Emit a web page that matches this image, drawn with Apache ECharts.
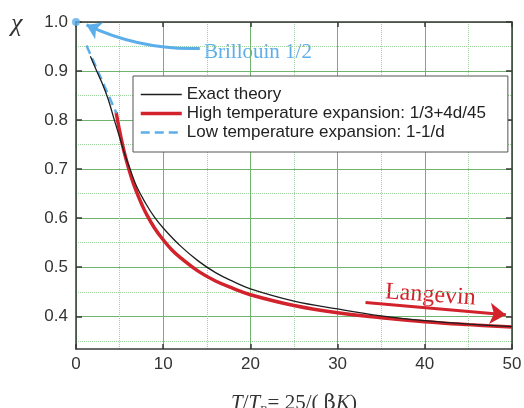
<!DOCTYPE html>
<html><head><meta charset="utf-8">
<script src="https://cdn.jsdelivr.net/npm/echarts@6/dist/echarts.min.js"></script>
<style>html,body{margin:0;padding:0;background:#fff}#c{width:524px;height:408px}</style>
</head><body><div id="c"></div>
<script>
// ---- data ----
const yTickValues = [0.4, 0.5, 0.6, 0.7, 0.8, 0.9, 1.0];
const yMinorValues = [0.35, 0.45, 0.55, 0.65, 0.75, 0.85, 0.95];
const exactX = [1.65, 2.5, 3.0, 3.7, 4.4, 5.0, 5.6, 6.2, 7, 8, 9, 10, 12, 14, 16, 18, 20, 25, 30, 35, 40, 45, 50];
const exactY = [0.930, 0.895, 0.875, 0.842, 0.800, 0.765, 0.730, 0.700, 0.663, 0.630, 0.602, 0.580, 0.543, 0.513, 0.489, 0.471, 0.456, 0.431, 0.415, 0.401, 0.391, 0.384, 0.379];
const highX = [4.6, 5, 5.5, 6, 6.5, 7, 7.5, 8, 9, 10, 11, 12, 14, 16, 18, 20, 25, 30, 35, 40, 45, 50];
const highY = [0.816, 0.778, 0.737, 0.704, 0.675, 0.651, 0.630, 0.611, 0.580, 0.556, 0.535, 0.519, 0.492, 0.472, 0.457, 0.444, 0.422, 0.407, 0.397, 0.389, 0.383, 0.378];
const lowX = [1.2, 4.64];
const lowY = [0.952, 0.814];
const brillouinPoint = [0, 1.0];
const brillouinArrow = [[14.2, 0.946], [1.2, 0.994]];
const langevinArrow = [[33.2, 0.428], [49.3, 0.403]];
const names = ['Exact theory', 'High temperature expansion: 1/3+4d/45', 'Low temperature expansion: 1-1/d'];

const zip = (xs, ys) => xs.map((x, i) => [x, ys[i]]);
const AX = '#3a3a3a', GREEN = '#6fb36f', GREEN2 = '#9fd09f';
const RED = '#d2232d', BLUE = '#5caeea', BLACK = '#1e1e1e';
const chart = echarts.init(document.getElementById('c'));
chart.setOption({
  animation: false,
  grid: {left: 76, right: 12, top: 22, bottom: 59, outerBoundsMode: 'none', containLabel: false},
  legend: {
    data: [
      {name: names[0], lineStyle: {width: 1.3, color: BLACK}},
      {name: names[1], lineStyle: {width: 3.5, color: RED}},
      {name: names[2], lineStyle: {width: 2.5, color: BLUE, type: [9, 5]}}
    ],
    orient: 'vertical', left: 133, top: 76,
    itemWidth: 41, itemHeight: 12, itemGap: 0,
    padding: [9, 22, 10, 6], backgroundColor: '#fff', borderColor: '#555', borderWidth: 1,
    selectedMode: false,
    itemStyle: {opacity: 0},
    textStyle: {fontFamily: 'Liberation Sans', fontSize: 17, color: '#222', lineHeight: 19}
  },
  xAxis: [
    {type: 'value', min: 0, max: 50, interval: 10, position: 'bottom',
      axisLine: {onZero: false, lineStyle: {color: AX, width: 1.5}},
      axisTick: {inside: true, length: 5, lineStyle: {color: AX, width: 1.5}},
      axisLabel: {fontFamily: 'Liberation Sans', fontSize: 17, color: '#333', margin: 7},
      splitLine: {show: true, lineStyle: {color: GREEN, width: 1}},
      minorTick: {show: false, splitNumber: 2},
      minorSplitLine: {show: true, lineStyle: {color: GREEN2, type: 'dotted', width: 1}},
      name: '{i|T}{n|/}{i|T}{sub|B}{n|= 25/( }{b|β}{i|K}{n|)}',
      nameLocation: 'middle', nameGap: 42,
      nameTextStyle: {
        rich: {
          i: {fontFamily: 'Liberation Serif', fontStyle: 'italic', fontSize: 21, color: '#333'},
          n: {fontFamily: 'Liberation Serif', fontSize: 21, color: '#333'},
          b: {fontFamily: 'DejaVu Serif', fontSize: 21, color: '#333'},
          sub: {fontFamily: 'Liberation Serif', fontSize: 11, color: '#333', padding: [14, 0, 0, 0]}
        }
      }
    },
    {type: 'value', min: 0, max: 50, interval: 10, position: 'top',
      axisLine: {onZero: false, lineStyle: {color: AX, width: 1.5}},
      axisTick: {inside: true, length: 5, lineStyle: {color: AX, width: 1.5}},
      axisLabel: {show: false}, splitLine: {show: false}}
  ],
  yAxis: [
    {type: 'value', min: 0.3333, max: 1, position: 'left',
      axisLine: {onZero: false, show: true, lineStyle: {color: AX, width: 1.5}},
      axisTick: {inside: true, length: 6, customValues: yTickValues, lineStyle: {color: AX, width: 1.5}},
      axisLabel: {customValues: yTickValues, formatter: v => v.toFixed(1), fontFamily: 'Liberation Sans', fontSize: 17, color: '#333', margin: 8},
      splitLine: {show: true, lineStyle: {color: GREEN, width: 1}}},
    {type: 'value', min: 0.3333, max: 1, position: 'right',
      axisLine: {onZero: false, show: true, lineStyle: {color: AX, width: 1.5}},
      axisTick: {inside: true, length: 6, customValues: yTickValues, lineStyle: {color: AX, width: 1.5}},
      axisLabel: {show: false}, splitLine: {show: false}},
    {type: 'value', min: 0.3333, max: 1, position: 'left',
      axisLine: {show: false},
      axisTick: {show: false, customValues: yMinorValues},
      axisLabel: {show: false},
      splitLine: {show: true, lineStyle: {color: GREEN2, type: 'dotted', width: 1}}}
  ],
  series: [
    {name: names[0], type: 'line', data: zip(exactX, exactY), symbol: 'none', smooth: 0.4,
      color: BLACK, lineStyle: {color: BLACK, width: 1.3}, z: 3},
    {name: names[1], type: 'line', data: zip(highX, highY), symbol: 'none', smooth: 0.4,
      color: RED, lineStyle: {color: RED, width: 3.5}, z: 2},
    {name: names[2], type: 'line', data: zip(lowX, lowY), symbol: 'none',
      color: BLUE, lineStyle: {color: BLUE, width: 2.5, type: [9, 5]}, z: 2},
    {name: 'Brillouin 1/2', type: 'scatter', data: [brillouinPoint], symbolSize: 8, clip: false,
      itemStyle: {color: BLUE}, z: 5},
    {type: 'lines', coordinateSystem: 'cartesian2d', clip: false, z: 5,
      symbol: ['none', 'arrow'], symbolSize: 14,
      lineStyle: {color: BLUE, width: 3, curveness: 0.12, opacity: 1},
      data: [{coords: brillouinArrow}]},
    {type: 'lines', coordinateSystem: 'cartesian2d', clip: false, z: 5,
      symbol: ['none', 'arrow'], symbolSize: 16,
      lineStyle: {color: RED, width: 3, curveness: 0, opacity: 1},
      data: [{coords: langevinArrow}]}
  ],
  graphic: [
    {type: 'text', left: 11, top: 11, style: {text: 'χ', font: 'italic 26px "Liberation Serif"', fill: '#333'}},
    {type: 'text', left: 204, top: 42, style: {text: 'Brillouin 1/2', font: '21px "Liberation Serif"', fill: BLUE}},
    {type: 'text', x: 386, y: 280, rotation: -0.07, style: {text: 'Langevin', font: '24px "Liberation Serif"', fill: RED}}
  ]
});
</script></body></html>
